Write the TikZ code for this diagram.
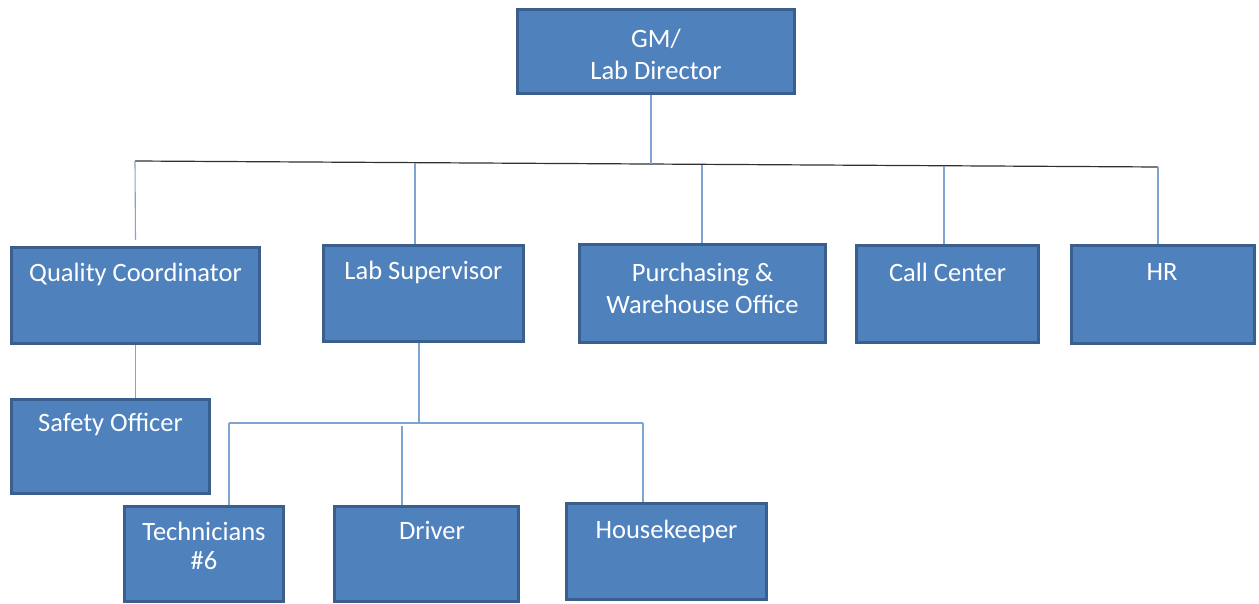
\documentclass[tikz,border=0pt]{standalone}
\usepackage{fontspec}
\setmainfont{Carlito}
\usetikzlibrary{calc}
\definecolor{boxfill}{HTML}{4F81BD}
\definecolor{boxline}{HTML}{3A5F8C}
\definecolor{conn}{HTML}{7FA3D3}
\definecolor{bus}{HTML}{303030}
\tikzset{
  box/.style={draw=boxline, fill=boxfill, line width=3.5pt, rectangle, inner sep=0pt},
  lbl/.style={text=white, align=center, font=\fontsize{26.5}{32}\selectfont, inner sep=0pt},
  connline/.style={draw=conn, line width=1.1pt},
  busline/.style={draw=bus, line width=1.2pt}
}
\begin{document}
\begin{tikzpicture}[x=1pt,y=-1pt]
\useasboundingbox (0,0) rectangle (1259,604);
% boxes
\node[box, minimum width=277, minimum height=84] (gm) at (656,51.5) {};
\node[box, minimum width=248, minimum height=96] (qc) at (135.5,295.5) {};
\node[box, minimum width=200, minimum height=96] (ls) at (423.5,293.5) {};
\node[box, minimum width=246, minimum height=98] (pw) at (702.5,293.5) {};
\node[box, minimum width=182, minimum height=97] (cc) at (947.5,294) {};
\node[box, minimum width=183, minimum height=98] (hr) at (1163,294.5) {};
\node[box, minimum width=198, minimum height=94] (so) at (110.5,446.5) {};
\node[box, minimum width=159, minimum height=95] (te) at (204,554) {};
\node[box, minimum width=184, minimum height=95] (dr) at (426.5,554) {};
\node[box, minimum width=200, minimum height=96] (hk) at (666.5,551.5) {};
% labels
\node[lbl] (gmt) at (656,54) {GM/\\Lab Director};
\node[lbl] (qct) at (135.5,274) {Quality Coordinator};
\node[lbl] (lst) at (423.5,272) {Lab Supervisor};
\node[lbl] (pwt) at (702.5,288) {Purchasing \&\\Warehouse Office};
\node[lbl] (cct) at (947.5,272) {Call Center};
\node[lbl] (hrt) at (1162,272) {HR};
\node[lbl] (sot) at (110.5,424) {Safety Officer};
\node[lbl] (tet) at (204,545.5) {Technicians\\[-3pt]\#6};
\node[lbl] (drt) at (432,530) {Driver};
\node[lbl] (hkt) at (666.5,531) {Housekeeper};
% bus coordinates
\coordinate (busL) at (135,161);
\coordinate (busR) at (1158,167);
\coordinate (gmx) at (651,0);
\coordinate (b1) at (651,164.3);
\coordinate (b2) at (415,163);
\coordinate (b3) at (702,165);
\coordinate (b4) at (944,166);
\coordinate (lsx) at (419,0);
\coordinate (sub) at (419,423);
\coordinate (subL) at (229,423);
\coordinate (subR) at (643,423);
\coordinate (sub2) at (402,426);
% connectors
\draw[busline] (busL) -- (busR);
\draw[connline] (gm.south -| gmx) -- (b1);
\draw[connline] (busL) -- ($(qc.north)+(0,-6)$);
\draw[connline] (b2) -- (b2 |- ls.north);
\draw[connline] (b3) -- (pw.north -| b3);
\draw[connline] (b4) -- (cc.north -| b4);
\draw[connline] (busR) -- (hr.north -| busR);
\draw[connline] (qc.south) -- (qc.south |- so.north);
\draw[connline] (ls.south -| lsx) -- (sub);
\draw[connline] (subL) -- (subR);
\draw[connline] (subL) -- (te.north -| subL);
\draw[connline] (sub2) -- (dr.north -| sub2);
\draw[connline] (subR) -- (hk.north -| subR);
\end{tikzpicture}
\end{document}
